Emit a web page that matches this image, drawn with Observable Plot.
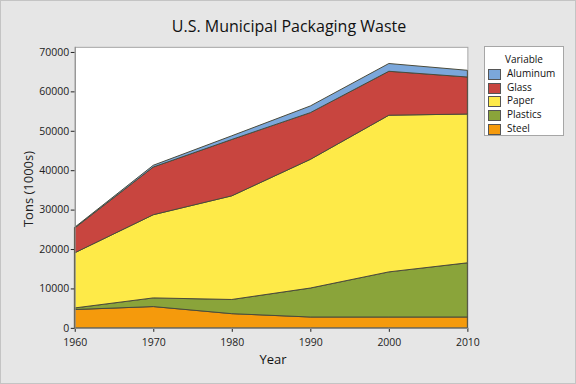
<!DOCTYPE html>
<html>
<head>
<meta charset="utf-8">
<script src="https://cdn.jsdelivr.net/npm/d3@7"></script>
<script src="https://cdn.jsdelivr.net/npm/@observablehq/plot@0.6"></script>
<style>
  html, body { margin: 0; padding: 0; }
  #fig { position: relative; width: 576px; height: 384px; background: #e6e6e6; box-sizing: border-box; border: 1px solid #c4c4c4; font-family: "Open Sans", sans-serif; overflow: hidden; }
  #fig svg { position: absolute; left: -1px; top: -1px; }
  .title { position: absolute; left: 0; width: 576px; top: 14px; text-align: center; font-size: 16px; color: #111; }
  .xlab { position: absolute; left: 75px; width: 394px; top: 349px; text-align: center; font-size: 13px; color: #111; }
  .ylab { position: absolute; left: 27px; top: 188px; transform: translate(-50%, -50%) rotate(-90deg); font-size: 13px; color: #222; white-space: nowrap; }
  .legend { position: absolute; left: 483px; top: 45px; width: 78px; height: 88px; background: #fff; border: 1px solid #a6a6a6; font-size: 10px; color: #111; }
  .legend .lt { position: absolute; left: 0; width: 78px; top: 5px; text-align: center; }
  .legend .it { position: absolute; left: 3px; height: 12px; line-height: 12px; }
  .legend .sw { display: inline-block; width: 11px; height: 9px; border: 1px solid #555; vertical-align: middle; margin-right: 6px; }
</style>
</head>
<body>
<div id="fig"></div>
<script>
const years = [1960, 1970, 1980, 1990, 2000, 2010];
const materials = ["Aluminum", "Glass", "Paper", "Plastics", "Steel"];
const aluminum = [170, 450, 930, 1700, 1970, 1700];
const glass = [6300, 12100, 14300, 11850, 11150, 9400];
const paper = [14000, 21100, 26300, 32650, 39750, 37750];
const plastics = [400, 2200, 3600, 7350, 11450, 13750];
const steel = [4650, 5400, 3600, 2750, 2750, 2750];
const colors = ["#7ba7db", "#c8453f", "#feea48", "#8aa43a", "#f59a0c"];
const yTicks = [0, 10000, 20000, 30000, 40000, 50000, 60000, 70000];

const series = {Aluminum: aluminum, Glass: glass, Paper: paper, Plastics: plastics, Steel: steel};
const stackOrder = ["Steel", "Plastics", "Paper", "Glass", "Aluminum"];
const data = [];
for (const m of stackOrder) years.forEach((yr, i) => data.push({year: yr, material: m, value: series[m][i]}));

const chart = Plot.plot({
  width: 576,
  height: 384,
  marginLeft: 75,
  marginRight: 107,
  marginTop: 47,
  marginBottom: 55,
  style: {background: "transparent", fontFamily: "Open Sans, sans-serif", fontSize: "10.5px", color: "#222"},
  x: {domain: [1960, 2010], ticks: years, tickFormat: d => String(d), label: null, tickSize: 4, tickPadding: 6},
  y: {domain: [0, 71300], ticks: yTicks, tickFormat: d => String(d), label: null, tickSize: 4, tickPadding: 2},
  color: {domain: materials, range: colors},
  marks: [
    Plot.frame({fill: "white", stroke: "#a6a6a6"}),
    Plot.areaY(data, {x: "year", y: "value", fill: "material", order: stackOrder, stroke: "#4a4a3a", strokeWidth: 1}),
    Plot.ruleX([1960], {stroke: "#8c8c8c"}),
    Plot.ruleY([0], {stroke: "#8c8c8c"})
  ]
});

const fig = document.getElementById("fig");
fig.appendChild(chart);

function addDiv(cls, text) {
  const d = document.createElement("div");
  d.className = cls;
  if (text) d.textContent = text;
  fig.appendChild(d);
  return d;
}
addDiv("title", "U.S. Municipal Packaging Waste");
addDiv("xlab", "Year");
addDiv("ylab", "Tons (1000s)");
const leg = addDiv("legend");
const lt = document.createElement("div");
lt.className = "lt"; lt.textContent = "Variable"; leg.appendChild(lt);
materials.forEach((m, i) => {
  const it = document.createElement("div");
  it.className = "it";
  it.style.top = (20 + i * 13.7) + "px";
  const sw = document.createElement("span");
  sw.className = "sw"; sw.style.background = colors[i];
  it.appendChild(sw);
  it.appendChild(document.createTextNode(m));
  leg.appendChild(it);
});
</script>
</body>
</html>
